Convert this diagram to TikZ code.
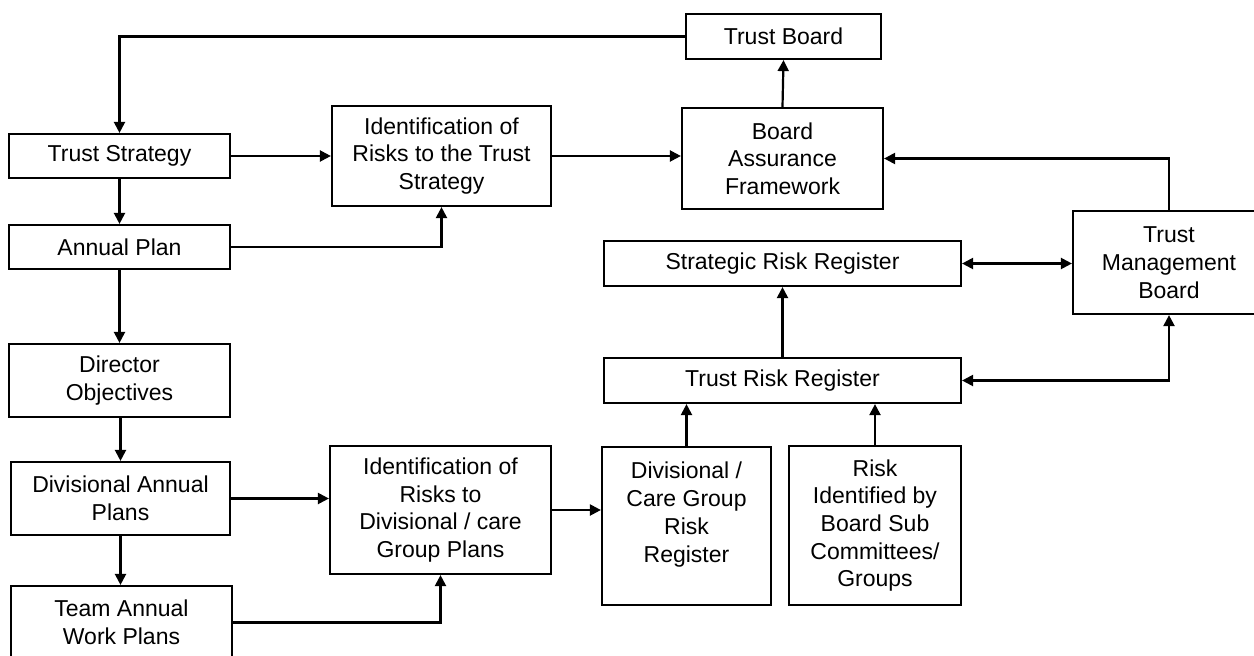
\documentclass[tikz,border=0pt]{standalone}
\usepackage{fontspec}
\setmainfont{Liberation Sans}
\usetikzlibrary{arrows.meta}
\begin{document}
\begin{tikzpicture}[x=1pt,y=-1pt,
  box/.style={draw, line width=2.2pt, inner sep=0pt, align=center,
    font=\fontsize{23}{27.7}\selectfont, anchor=center},
  arr/.style={line width=2.2pt, -{Triangle[length=11pt,width=11pt]}},
  biarr/.style={line width=2.2pt, {Triangle[length=11pt,width=11pt]}-{Triangle[length=11pt,width=11pt]}}]
\useasboundingbox (0,0) rectangle (1254,656);
\node[box, minimum width=195, minimum height=45] (tb) at (783.5,36.5) {Trust Board};
\node[box, minimum width=221, minimum height=44] (ts) at (119.5,156) {Trust Strategy};
\node[box, minimum width=221, minimum height=44] (ap) at (119.5,247) {Annual Plan};
\node[box, minimum width=219, minimum height=100] (id1) at (441.5,156) {Identification of\\Risks to the Trust\\Strategy};
\node[box, minimum width=201, minimum height=101] (baf) at (782.5,158.5) {Board\\Assurance\\Framework};
\node[box, minimum width=357, minimum height=45] (srr) at (782.5,263.5) {Strategic Risk Register};
\node[box, minimum width=192, minimum height=103] (tmb) at (1169,262.5) {Trust\\Management\\Board};
\node[box, minimum width=221, minimum height=73] (do) at (119.5,380.5) {Director\\Objectives};
\node[box, minimum width=357, minimum height=45] (trr) at (782.5,380.5) {Trust Risk Register};
\node[box, minimum width=219, minimum height=73] (dap) at (120.5,498.5) {Divisional Annual\\Plans};
\node[box, minimum width=221, minimum height=128] (id2) at (440.5,510) {Identification of\\Risks to\\Divisional / care\\Group Plans};
\node[box, minimum width=169, minimum height=158] (dcg) at (686.5,526) {Divisional /\\Care Group\\Risk\\Register\\\mbox{}};
\node[box, minimum width=172, minimum height=159] (rib) at (875,525.5) {Risk\\Identified by\\Board Sub\\Committees/\\Groups};
\node[box, minimum width=221, minimum height=73] (tawp) at (121.5,622.5) {Team Annual\\Work Plans};

\draw[arr] (tb.west) -| (ts.north);
\draw[arr] (ts.east) -- (ts.east -| id1.west);
\draw[arr] (id1.east) -- (baf.west |- id1.east);
\draw[arr] (baf.north) -- (tb.south);
\draw[arr] (tmb.north) |- (baf.east);
\draw[arr] (ts.south) -- (ap.north);
\draw[arr] (ap.east) -| (id1.south);
\draw[arr] (ap.south) -- (do.north);
\draw[arr] (dap.north |- do.south) -- (dap.north);
\draw[arr] (dap.south) -- (dap.south |- tawp.north);
\draw[arr] (dap.east) -- (dap.east -| id2.west);
\draw[arr] (tawp.east) -| (id2.south);
\draw[arr] (id2.east) -- (id2.east -| dcg.west);
\draw[arr] (dcg.north) -- (dcg.north |- trr.south);
\draw[arr] (rib.north) -- (rib.north |- trr.south);
\draw[arr] (trr.north) -- (srr.south);
\draw[biarr] (srr.east) -- (srr.east -| tmb.west);
\draw[biarr] (trr.east) -| (tmb.south);
\end{tikzpicture}
\end{document}
